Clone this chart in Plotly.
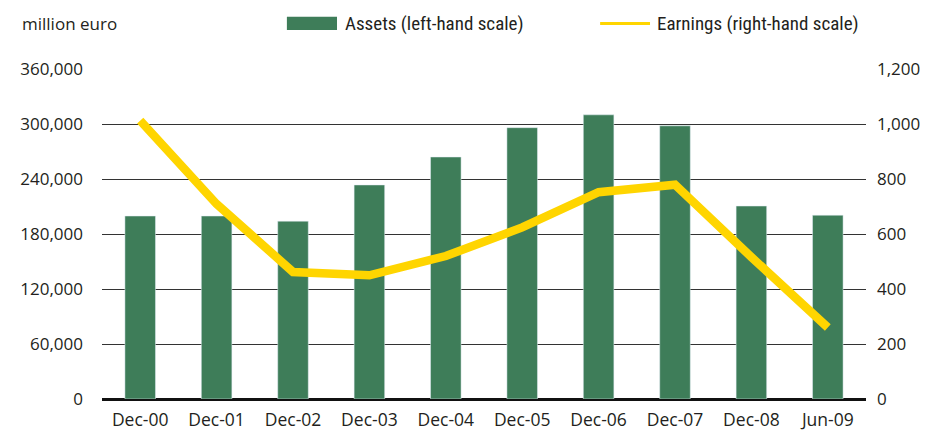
import plotly.graph_objects as go

categories = ["Dec-00", "Dec-01", "Dec-02", "Dec-03", "Dec-04", "Dec-05", "Dec-06", "Dec-07", "Dec-08", "Jun-09"]
assets = [199600, 199600, 194000, 233500, 264000, 296000, 310000, 298000, 210500, 200500]
earnings = [1012, 709, 462, 450, 520, 624, 752, 779, 516, 260]
left_ticks = [0, 60000, 120000, 180000, 240000, 300000, 360000]
right_ticks = [0, 200, 400, 600, 800, 1000, 1200]

TICKFONT = "Open Sans, Noto Sans, sans-serif"
NARROW = "Liberation Sans Narrow, Roboto Condensed, Arial Narrow, sans-serif"
GREEN = "#3E7D59"
YELLOW = "#FFD500"
TXT = "#231F20"

fig = go.Figure()
fig.add_trace(go.Bar(x=categories, y=assets, marker_color=GREEN, name="Assets (left-hand scale)",
                     yaxis="y", showlegend=False))
fig.add_trace(go.Scatter(x=categories, y=earnings, mode="lines", line=dict(color=YELLOW, width=8.5),
                         name="Earnings (right-hand scale)", yaxis="y2", showlegend=False))

fig.update_layout(
    width=935, height=430,
    margin=dict(l=102, r=69, t=69, b=31, autoexpand=False),
    paper_bgcolor="white", plot_bgcolor="white",
    bargap=0.6,
    font=dict(family=TICKFONT, size=17, color=TXT),
    xaxis=dict(showgrid=False, ticks="", tickfont=dict(size=17.5), showline=False,
               automargin=False, ticklabelstandoff=8),
    yaxis=dict(range=[0, 360000], tickvals=left_ticks,
               ticktext=[f"{v:,}" for v in left_ticks],
               showgrid=True, gridcolor="#333333", gridwidth=1,
               zeroline=True, zerolinecolor="#111111", zerolinewidth=2.5,
               ticks="", ticklabelstandoff=18, tickfont=dict(size=17), automargin=False),
    yaxis2=dict(range=[0, 1200], tickvals=right_ticks,
                ticktext=[f"{v:,}" for v in right_ticks],
                overlaying="y", side="right", showgrid=False, zeroline=False,
                ticks="", ticklabelstandoff=10, tickfont=dict(size=17), automargin=False),
)

fig.add_annotation(text="million euro", xref="paper", yref="paper", x=-0.107, y=1.138,
                   xanchor="left", yanchor="middle", showarrow=False,
                   font=dict(family=TICKFONT, size=17))
# legend
fig.add_shape(type="rect", xref="paper", yref="paper", x0=0.242, x1=0.3076, y0=1.118, y1=1.158,
              fillcolor=GREEN, line=dict(width=0))
fig.add_annotation(text="Assets (left-hand scale)", xref="paper", yref="paper", x=0.3155, y=1.138,
                   xanchor="left", yanchor="middle", showarrow=False,
                   font=dict(family=NARROW, size=19))
fig.add_shape(type="line", xref="paper", yref="paper", x0=0.652, x1=0.7173, y0=1.138, y1=1.138,
              line=dict(color=YELLOW, width=3))
fig.add_annotation(text="Earnings (right-hand scale)", xref="paper", yref="paper", x=0.724, y=1.138,
                   xanchor="left", yanchor="middle", showarrow=False,
                   font=dict(family=NARROW, size=19))

fig.write_html("out.html", config={"displayModeBar": False},
               post_script="document.body.style.margin='0';document.body.style.overflow='hidden';")
